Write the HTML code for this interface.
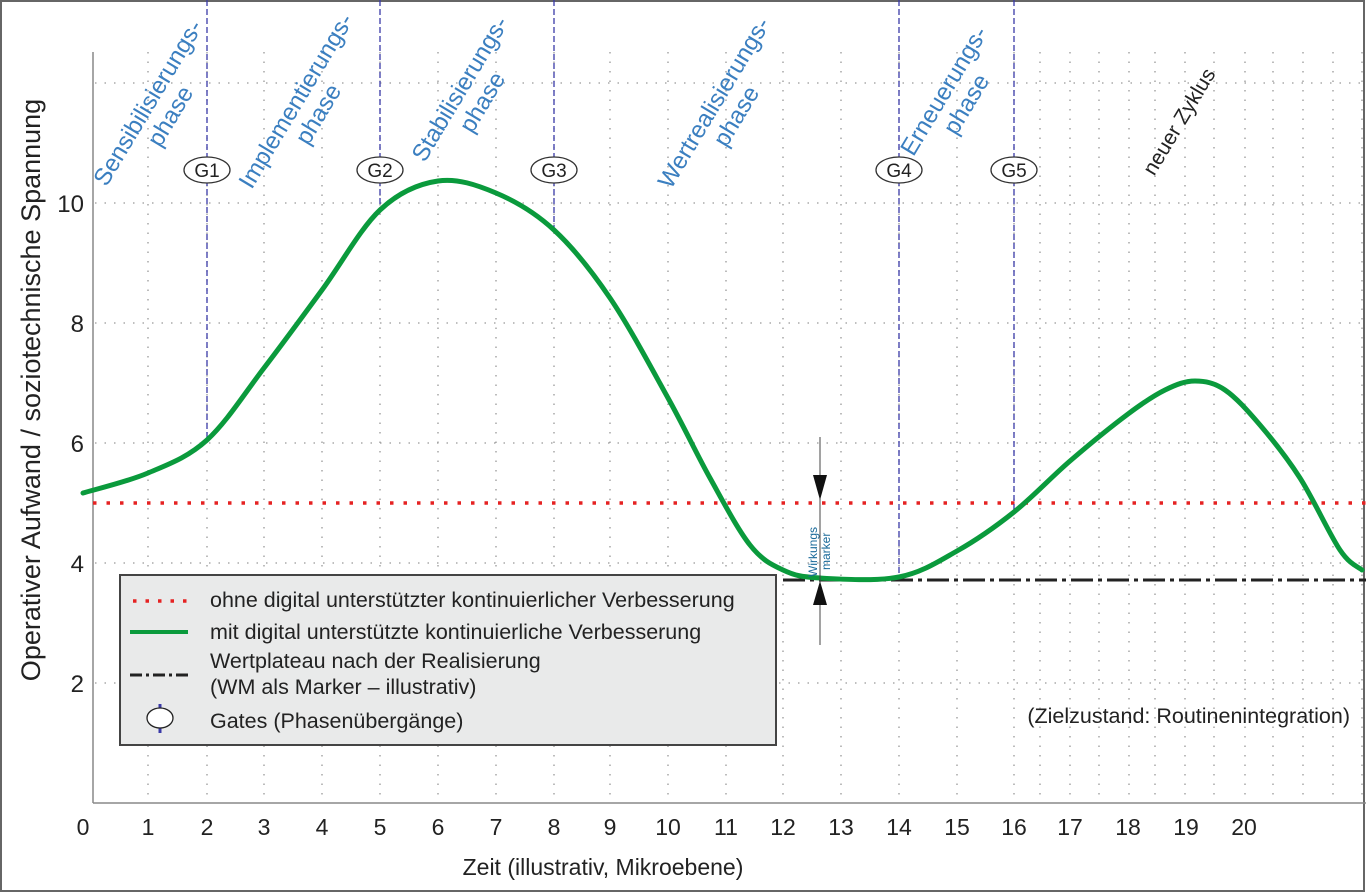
<!DOCTYPE html>
<html><head><meta charset="utf-8"><style>
html,body{margin:0;padding:0;background:#fff;}
#c{position:relative;width:1366px;height:893px;overflow:hidden;font-family:"Liberation Sans",sans-serif;}
.ph{position:absolute;color:#3b7fc0;font-size:24px;line-height:26px;text-align:center;white-space:nowrap;transform:translate(-50%,-50%) rotate(-59deg);}
</style></head><body><div id="c">
<svg width="1366" height="893" style="position:absolute;left:0;top:0">
<rect x="1" y="1" width="1363" height="890" fill="none" stroke="#666" stroke-width="2"/>
<g id="grid" stroke="#999" stroke-width="1.3" stroke-dasharray="1.5 8"></g>
<line x1="93" y1="52" x2="93" y2="803" stroke="#888" stroke-width="1.5"/>
<line x1="93" y1="803" x2="1366" y2="803" stroke="#888" stroke-width="1.5"/>
<line x1="93" y1="503" x2="1366" y2="503" stroke="#e52222" stroke-width="3.5" stroke-dasharray="3.5 10"/>
<g stroke="#3a3aa8" stroke-width="1.3" stroke-dasharray="6 3">
<line x1="207" y1="0" x2="207" y2="440"/><line x1="380" y1="0" x2="380" y2="210"/>
<line x1="554" y1="0" x2="554" y2="232"/><line x1="899" y1="0" x2="899" y2="577"/>
<line x1="1014" y1="0" x2="1014" y2="512"/></g>
<line x1="783" y1="580" x2="1366" y2="580" stroke="#222" stroke-width="3" stroke-dasharray="22 5 4 5"/>
<path id="curve" fill="none" stroke="#0a9a3c" stroke-width="5" stroke-linejoin="round" stroke-linecap="round"/>
<g fill="#fff" stroke="#333" stroke-width="1.3">
<ellipse cx="207" cy="170" rx="23" ry="13"/><ellipse cx="380" cy="170" rx="23" ry="13"/>
<ellipse cx="554" cy="170" rx="23" ry="13"/><ellipse cx="899" cy="170" rx="23" ry="13"/>
<ellipse cx="1014" cy="170" rx="23" ry="13"/></g>
<g font-size="19" text-anchor="middle" fill="#222" font-family="Liberation Sans">
<text x="207" y="177">G1</text><text x="380" y="177">G2</text><text x="554" y="177">G3</text>
<text x="899" y="177">G4</text><text x="1014" y="177">G5</text></g>
<line x1="820" y1="437" x2="820" y2="645" stroke="#444" stroke-width="1"/>
<polygon points="813,475 827,475 820,500" fill="#111"/>
<polygon points="813,605 827,605 820,581" fill="#111"/>
<text transform="translate(817,577) rotate(-90)" font-size="12" fill="#1a6a9a" font-family="Liberation Sans">Wirkungs</text>
<text transform="translate(830,570) rotate(-90)" font-size="12" fill="#1a6a9a" font-family="Liberation Sans">marker</text>
<rect x="120" y="575" width="656" height="170" fill="#e9eaea" stroke="#444" stroke-width="2"/>
<line x1="133" y1="601" x2="195" y2="601" stroke="#e52222" stroke-width="3.5" stroke-dasharray="3.5 9"/>
<line x1="130" y1="632" x2="188" y2="632" stroke="#0a9a3c" stroke-width="4"/>
<line x1="130" y1="675" x2="188" y2="675" stroke="#222" stroke-width="3" stroke-dasharray="12 4 3 4"/>
<line x1="160" y1="704" x2="160" y2="733" stroke="#3a3aa8" stroke-width="3"/>
<ellipse cx="160" cy="718" rx="13" ry="10" fill="#fff" stroke="#222" stroke-width="1.3"/>
<g font-size="21.5" fill="#222" font-family="Liberation Sans">
<text x="210" y="607">ohne digital unterstützter kontinuierlicher Verbesserung</text>
<text x="210" y="639">mit digital unterstützte kontinuierliche Verbesserung</text>
<text x="210" y="668">Wertplateau nach der Realisierung</text>
<text x="210" y="694">(WM als Marker – illustrativ)</text>
<text x="210" y="728">Gates (Phasenübergänge)</text>
<text x="1350" y="723" text-anchor="end">(Zielzustand: Routinenintegration)</text>
</g>
<g font-size="24" fill="#222" font-family="Liberation Sans" text-anchor="end">
<text x="84" y="212">10</text><text x="84" y="332">8</text><text x="84" y="452">6</text><text x="84" y="572">4</text><text x="84" y="692">2</text></g>
<g id="xl" font-size="23" fill="#222" font-family="Liberation Sans" text-anchor="middle"></g>
<text x="603" y="875" font-size="23" text-anchor="middle" fill="#222" font-family="Liberation Sans">Zeit (illustrativ, Mikroebene)</text>
<text transform="translate(40,390) rotate(-90)" font-size="27" text-anchor="middle" fill="#222" font-family="Liberation Sans">Operativer Aufwand / soziotechnische Spannung</text>
</svg>
<div class="ph" style="left:160px;top:110px">Sensibilisierungs-<br>phase</div>
<div class="ph" style="left:308px;top:108px">Implementierungs-<br>phase</div>
<div class="ph" style="left:472px;top:96px">Stabilisierungs-<br>phase</div>
<div class="ph" style="left:726px;top:110px">Wertrealisierungs-<br>phase</div>
<div class="ph" style="left:956px;top:98px">Erneuerungs-<br>phase</div>
<div class="ph" style="left:1180px;top:122px;color:#222;font-size:21px">neuer Zyklus</div>
</div>
<script>
var ns="http://www.w3.org/2000/svg";
var xs=[83,148,207,264,322,380,438,496,554,610,668,726,783,841,899,957,1014,1070,1128,1186,1244];
var xl=document.getElementById('xl'),g=document.getElementById('grid');
xs.forEach(function(x,i){var t=document.createElementNS(ns,'text');t.setAttribute('x',x);t.setAttribute('y',835);t.textContent=i;xl.appendChild(t);});
var gx=[148,207,264,322,380,438,496,554,610,668,726,783,841,899,957,1014,1040,1070,1099,1129,1155,1185,1214,1245,1273,1303,1333,1362];
gx.forEach(function(x){var l=document.createElementNS(ns,'line');l.setAttribute('x1',x);l.setAttribute('x2',x);l.setAttribute('y1',52);l.setAttribute('y2',803);g.appendChild(l);});
[83,203,323,443,563,683].forEach(function(y){var l=document.createElementNS(ns,'line');l.setAttribute('x1',95);l.setAttribute('x2',1366);l.setAttribute('y1',y);l.setAttribute('y2',y);g.appendChild(l);});
var p=[[83,493],[148,473],[207,440],[264,368],[322,290],[380,210],[438,181],[496,193],[554,230],[610,298],[668,398],[710,478],[750,545],[783,570],[820,578],[899,577],[957,551],[1014,512],[1070,461],[1128,414],[1165,390],[1195,381],[1225,390],[1260,425],[1300,478],[1340,550],[1362,570]];
var d="M"+p[0][0]+","+p[0][1];
for(var i=0;i<p.length-1;i++){var a=p[Math.max(i-1,0)],b=p[i],c=p[i+1],e=p[Math.min(i+2,p.length-1)];
d+=" C"+(b[0]+(c[0]-a[0])/6)+","+(b[1]+(c[1]-a[1])/6)+" "+(c[0]-(e[0]-b[0])/6)+","+(c[1]-(e[1]-b[1])/6)+" "+c[0]+","+c[1];}
document.getElementById('curve').setAttribute('d',d);
</script>
</body></html>
